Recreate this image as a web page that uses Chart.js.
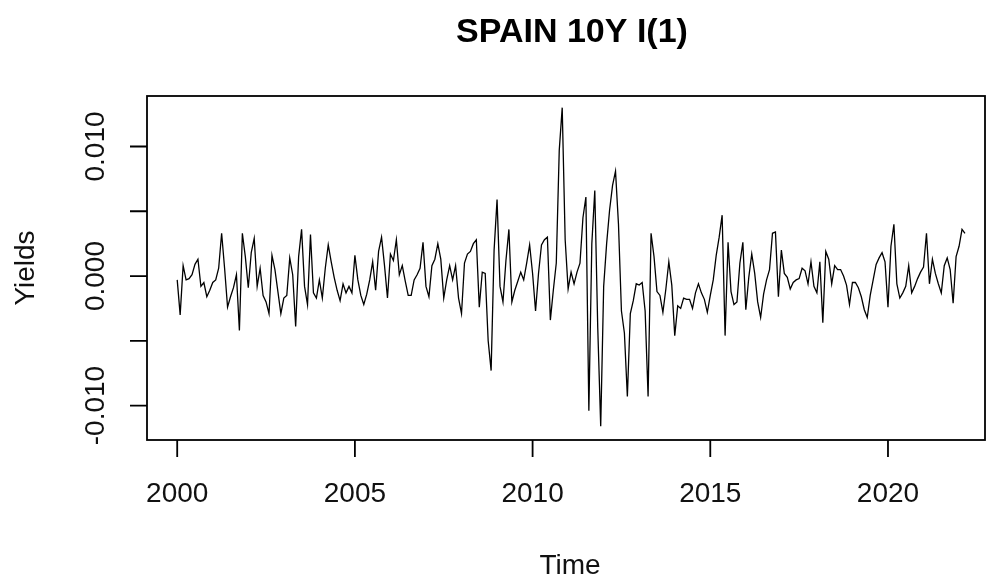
<!DOCTYPE html>
<html>
<head>
<meta charset="utf-8">
<script src="https://cdn.jsdelivr.net/npm/chart.js@4/dist/chart.umd.min.js"></script>
<style>
  body { margin: 0; background: #fff; }
  #wrap { width: 986px; height: 578px; }
</style>
</head>
<body>
<div id="wrap"><canvas id="yieldChart" width="986" height="578"></canvas></div>
<script>
// monthly first differences of the Spain 10Y yield, starting Jan 2000
const startYear = 2000;
const perYear = 12;
const yieldDiff = [
    -0.0003, -0.0030, 0.0008, -0.0003, -0.0002, 0.0001, 0.0009, 0.0013, -0.0008, -0.0005, -0.0016, -0.0011, // 2000
    -0.0005, -0.0003, 0.0006, 0.0033, 0.0006, -0.0024, -0.0016, -0.0009, 0.0001, -0.0042, 0.0033, 0.0015,   // 2001
    -0.0009, 0.0018, 0.0029, -0.0008, 0.0006, -0.0015, -0.0020, -0.0029, 0.0016, 0.0005, -0.0012, -0.0029,  // 2002
    -0.0017, -0.0015, 0.0014, 0.0001, -0.0039, 0.0015, 0.0036, -0.0008, -0.0022, 0.0032, -0.0013, -0.0017,  // 2003
    -0.0003, -0.0017, 0.0006, 0.0024, 0.0011, -0.0001, -0.0011, -0.0019, -0.0006, -0.0013, -0.0008, -0.0013, // 2004
    0.0016, -0.0003, -0.0015, -0.0022, -0.0014, -0.0003, 0.0011, -0.0011, 0.0019, 0.0030, 0.0008, -0.0017,   // 2005
    0.0017, 0.0012, 0.0028, 0.0001, 0.0008, -0.0004, -0.0015, -0.0015, -0.0003, 0.0001, 0.0006, 0.0026,     // 2006
    -0.0008, -0.0016, 0.0008, 0.0013, 0.0025, 0.0013, -0.0017, -0.0003, 0.0008, -0.0003, 0.0008, -0.0017,   // 2007
    -0.0029, 0.0010, 0.0017, 0.0019, 0.0025, 0.0028, -0.0024, 0.0003, 0.0002, -0.0050, -0.0073, 0.0020,     // 2008
    0.0059, -0.0008, -0.0020, 0.0012, 0.0036, -0.0020, -0.0011, -0.0004, 0.0003, -0.0003, 0.0010, 0.0024,   // 2009
    0.0002, -0.0027, 0.0002, 0.0024, 0.0028, 0.0030, -0.0034, -0.0011, 0.0010, 0.0097, 0.0130, 0.0028,      // 2010
    -0.0010, 0.0003, -0.0006, 0.0003, 0.0010, 0.0045, 0.0061, -0.0104, 0.0025, 0.0066, -0.0040, -0.0116,    // 2011
    -0.0008, 0.0025, 0.0051, 0.0070, 0.0081, 0.0040, -0.0027, -0.0044, -0.0093, -0.0029, -0.0019, -0.0006,  // 2012
    -0.0007, -0.0005, -0.0027, -0.0093, 0.0033, 0.0015, -0.0012, -0.0015, -0.0028, -0.0010, 0.0011, -0.0007, // 2013
    -0.0046, -0.0023, -0.0025, -0.0017, -0.0018, -0.0018, -0.0025, -0.0013, -0.0006, -0.0013, -0.0018, -0.0028, // 2014
    -0.0015, -0.0003, 0.0016, 0.0030, 0.0047, -0.0046, 0.0026, -0.0012, -0.0022, -0.0020, 0.0010, 0.0026,   // 2015
    -0.0026, -0.0001, 0.0017, 0.0002, -0.0020, -0.0032, -0.0014, -0.0003, 0.0005, 0.0033, 0.0034, -0.0016,  // 2016
    0.0020, 0.0002, -0.0001, -0.0010, -0.0005, -0.0003, -0.0002, 0.0006, 0.0004, -0.0006, 0.0011, -0.0008,  // 2017
    -0.0013, 0.0011, -0.0036, 0.0019, 0.0013, -0.0006, 0.0008, 0.0005, 0.0005, 0.0000, -0.0007, -0.0022,    // 2018
    -0.0005, -0.0005, -0.0009, -0.0016, -0.0026, -0.0032, -0.0015, -0.0003, 0.0009, 0.0014, 0.0018, 0.0011, // 2019
    -0.0024, 0.0023, 0.0040, -0.0006, -0.0017, -0.0013, -0.0008, 0.0008, -0.0013, -0.0008, -0.0002, 0.0003, // 2020
    0.0007, 0.0033, -0.0006, 0.0013, 0.0002, -0.0006, -0.0013, 0.0008, 0.0014, 0.0005, -0.0021, 0.0015,     // 2021
    0.0023, 0.0036, 0.0033                                                                                  // 2022
];

const xTicks = [2000, 2005, 2010, 2015, 2020];
const xTickLabels = ['2000', '2005', '2010', '2015', '2020'];
const yTicks = [-0.010, -0.005, 0.000, 0.005, 0.010];
const yTickLabels = ['-0.010', '', '0.000', '', '0.010'];

const points = yieldDiff.map((v, i) => ({ x: startYear + i / perYear, y: v }));

const FONT = "'Liberation Sans', Arial, sans-serif";

// R style box, outward ticks and labels
const baseAxes = {
    id: 'baseAxes',
    afterDraw(chart) {
        const ctx = chart.ctx;
        const area = chart.chartArea;
        const xs = chart.scales.x;
        const ys = chart.scales.y;

        ctx.save();
        ctx.strokeStyle = '#000';
        ctx.lineWidth = 1.8;
        ctx.strokeRect(area.left, area.top, area.right - area.left, area.bottom - area.top);

        ctx.beginPath();
        yTicks.forEach(v => {
            const py = ys.getPixelForValue(v);
            ctx.moveTo(area.left - 17, py);
            ctx.lineTo(area.left, py);
        });
        xTicks.forEach(v => {
            const px = xs.getPixelForValue(v);
            ctx.moveTo(px, area.bottom);
            ctx.lineTo(px, area.bottom + 17);
        });
        ctx.stroke();

        ctx.fillStyle = '#111';
        ctx.font = '28px ' + FONT;
        ctx.textAlign = 'center';
        ctx.textBaseline = 'middle';

        xTicks.forEach((v, i) => {
            ctx.fillText(xTickLabels[i], xs.getPixelForValue(v), 494);
        });
        yTicks.forEach((v, i) => {
            if (!yTickLabels[i]) return;
            ctx.save();
            ctx.translate(96, ys.getPixelForValue(v));
            ctx.rotate(-Math.PI / 2);
            ctx.fillText(yTickLabels[i], 0, 0);
            ctx.restore();
        });

        ctx.fillText('Time', 570, 566);
        ctx.save();
        ctx.translate(26, 268);
        ctx.rotate(-Math.PI / 2);
        ctx.fillText('Yields', 0, 0);
        ctx.restore();

        ctx.fillStyle = '#000';
        ctx.font = 'bold 34px ' + FONT;
        ctx.fillText('SPAIN 10Y I(1)', 572, 33);
        ctx.restore();
    }
};

const chart = new Chart(document.getElementById('yieldChart'), {
    type: 'line',
    data: {
        datasets: [{
            data: points,
            borderColor: '#000',
            borderWidth: 1.3,
            pointRadius: 0,
            tension: 0,
            fill: false
        }]
    },
    options: {
        responsive: false,
        animation: false,
        layout: { padding: { left: 147, right: 1, top: 96, bottom: 138 } },
        plugins: { legend: { display: false }, tooltip: { enabled: false } },
        scales: {
            x: { type: 'linear', display: false, min: 1999.15, max: 2022.73 },
            y: { type: 'linear', display: false, min: -0.01266, max: 0.0139 }
        }
    },
    plugins: [baseAxes]
});
</script>
</body>
</html>
